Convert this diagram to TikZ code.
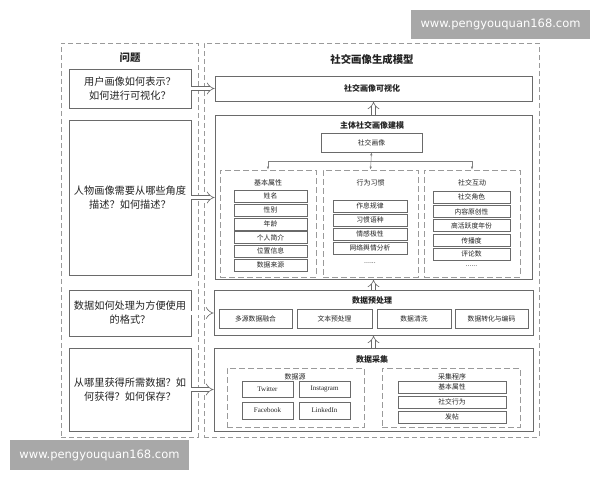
\documentclass[tikz,border=0pt]{standalone}
\usepackage{fontspec}
\setmainfont{Noto Sans CJK SC}
\newfontfamily\wmfont{DejaVu Sans}
\newfontfamily\enserif{Liberation Serif}
\usetikzlibrary{arrows.meta}
\definecolor{boxline}{HTML}{6A6A6A}
\definecolor{dashline}{HTML}{9A9A9A}
\definecolor{txt}{HTML}{222222}
\definecolor{wmgray}{HTML}{A8A8A8}
\tikzset{
  every node/.style={text=txt, inner sep=0pt},
  outerbox/.style={draw=dashline, line width=0.8pt, dash pattern=on 5pt off 3pt},
  subbox/.style={draw=dashline, line width=0.8pt, dash pattern=on 6pt off 3pt},
  qbox/.style={draw=boxline, line width=0.7pt, align=center, font=\fontsize{10.2}{14}\selectfont},
  bigbox/.style={draw=boxline, line width=0.7pt},
  item/.style={draw=boxline, line width=0.6pt, font=\fontsize{6.8}{8}\selectfont},
  ttl/.style={font=\bfseries\fontsize{10.4}{12}\selectfont},
  sttl/.style={font=\bfseries\fontsize{8}{10}\selectfont},
  lbl/.style={font=\fontsize{7}{8}\selectfont},
  harrow/.style={draw=boxline, line width=0.6pt, double=white, double distance=3.6pt, -{Implies[length=4.5pt]}},
  thinarrow/.style={draw=gray, line width=0.5pt, -{Latex[length=3pt,width=2.4pt]}},
  wm/.style={fill=wmgray, text=white, font=\wmfont\fontsize{11.5}{14}\selectfont}
}
\begin{document}
\begin{tikzpicture}[x=1pt,y=-1pt]
\useasboundingbox (0,0) rectangle (600,480);
% outer dashed boxes
\node[outerbox, minimum width=137pt, minimum height=394pt] (left) at (129.5,240) {};
\node[outerbox, minimum width=335pt, minimum height=394pt] (right) at (371.5,240) {};
\node[ttl] (lt) at (130,58) {问题};
\node[ttl] (rt) at (372,60) {社交画像生成模型};
% questions
\node[qbox, minimum width=122pt, minimum height=39pt] (q1) at (130,88.5) {用户画像如何表示？\\如何进行可视化？};
\node[qbox, minimum width=122pt, minimum height=155pt] (q2) at (130,197.5) {人物画像需要从哪些角度\\描述？如何描述？};
\node[qbox, minimum width=122pt, minimum height=46pt] (q3) at (130,313) {数据如何处理为方便使用\\的格式？};
\node[qbox, minimum width=122pt, minimum height=83pt] (q4) at (130,389.5) {从哪里获得所需数据？如\\何获得？如何保存？};
% visualization
\node[bigbox, minimum width=317pt, minimum height=25pt] (vis) at (373.5,88.5) {};
\node[sttl] (vist) at (372,88) {社交画像可视化};
% modeling
\node[bigbox, minimum width=317pt, minimum height=164pt] (model) at (373.5,197) {};
\node[sttl] (modelt) at (372,125) {主体社交画像建模};
\node[item, minimum width=101pt, minimum height=19pt] (sh) at (371.5,142.5) {社交画像};
\node[subbox, minimum width=96pt, minimum height=107pt] (A) at (268,223.5) {};
\node[subbox, minimum width=95pt, minimum height=107pt] (B) at (370.5,223.5) {};
\node[subbox, minimum width=96pt, minimum height=107pt] (C) at (472,223.5) {};
\node[lbl] (At) at (268,183) {基本属性};
\node[lbl] (Bt) at (370.5,183) {行为习惯};
\node[lbl] (Ct) at (472,183) {社交互动};
% A items
\node[item, minimum width=73pt, minimum height=12pt] (a1) at (270.5,196) {姓名};
\node[item, minimum width=73pt, minimum height=12pt] (a2) at (270.5,210) {性别};
\node[item, minimum width=73pt, minimum height=12pt] (a3) at (270.5,224) {年龄};
\node[item, minimum width=73pt, minimum height=12pt] (a4) at (270.5,237.5) {个人简介};
\node[item, minimum width=73pt, minimum height=12pt] (a5) at (270.5,251) {位置信息};
\node[item, minimum width=73pt, minimum height=12pt] (a6) at (270.5,265) {数据来源};
% B items
\node[item, minimum width=74pt, minimum height=12pt] (b1) at (370,206) {作息规律};
\node[item, minimum width=74pt, minimum height=12pt] (b2) at (370,220) {习惯语种};
\node[item, minimum width=74pt, minimum height=12pt] (b3) at (370,234) {情感极性};
\node[item, minimum width=74pt, minimum height=12pt] (b4) at (370,248) {网络舆情分析};
\node[lbl] (b5) at (370,263) {......};
% C items
\node[item, minimum width=77pt, minimum height=12pt] (c1) at (471.5,197) {社交角色};
\node[item, minimum width=77pt, minimum height=12pt] (c2) at (471.5,211.5) {内容原创性};
\node[item, minimum width=77pt, minimum height=12pt] (c3) at (471.5,225.5) {高活跃度年份};
\node[item, minimum width=77pt, minimum height=12pt] (c4) at (471.5,240.5) {传播度};
\node[item, minimum width=77pt, minimum height=12pt] (c5) at (471.5,254) {评论数};
\node[lbl] (c6) at (471.5,266) {......};
% connectors inside modeling
\coordinate (hj) at (371.5,161);
\draw[thinarrow, {Latex[length=3pt,width=2.4pt]}-{Latex[length=3pt,width=2.4pt]}] (sh.south) -- (B.north);
\draw[thinarrow] (hj) -| (A.north);
\draw[thinarrow] (hj) -| (C.north);
% preprocessing
\node[bigbox, minimum width=319pt, minimum height=45pt] (pre) at (373.5,312.5) {};
\node[sttl] (pret) at (372,300) {数据预处理};
\node[item, minimum width=73pt, minimum height=19pt] (p1) at (255.5,318.5) {多源数据融合};
\node[item, minimum width=75pt, minimum height=19pt] (p2) at (334.5,318.5) {文本预处理};
\node[item, minimum width=74pt, minimum height=19pt] (p3) at (414,318.5) {数据清洗};
\node[item, minimum width=73pt, minimum height=19pt] (p4) at (491.5,318.5) {数据转化与编码};
% collection
\node[bigbox, minimum width=319pt, minimum height=83pt] (col) at (373.5,389.5) {};
\node[sttl] (colt) at (372,359) {数据采集};
\node[subbox, minimum width=137pt, minimum height=59pt] (src) at (295.5,397.5) {};
\node[lbl] (srct) at (295,376.5) {数据源};
\node[item, minimum width=51pt, minimum height=16pt, font=\enserif\fontsize{7}{8}\selectfont] (tw) at (267.5,389) {Twitter};
\node[item, minimum width=51pt, minimum height=16pt, font=\enserif\fontsize{7}{8}\selectfont] (ig) at (324.5,389) {Instagram};
\node[item, minimum width=51pt, minimum height=17pt, font=\enserif\fontsize{7}{8}\selectfont] (fb) at (267.5,410.5) {Facebook};
\node[item, minimum width=51pt, minimum height=17pt, font=\enserif\fontsize{7}{8}\selectfont] (li) at (324.5,410.5) {LinkedIn};
\node[subbox, minimum width=138pt, minimum height=59pt] (prog) at (451,397.5) {};
\node[lbl] (progt) at (452,376.5) {采集程序};
\node[item, minimum width=108pt, minimum height=12pt] (g1) at (452,387) {基本属性};
\node[item, minimum width=108pt, minimum height=12pt] (g2) at (452,402) {社交行为};
\node[item, minimum width=108pt, minimum height=12pt] (g3) at (452,417) {发帖};
% hollow arrows
\draw[harrow] (q1.east) -- (q1.east -| vis.west);
\draw[harrow] (q2.east) -- (q2.east -| model.west);
\draw[harrow] (q3.east) -- (q3.east -| pre.west);
\draw[harrow] (q4.east) -- (q4.east -| col.west);
\draw[harrow] (model.north) -- (vis.south);
\draw[harrow] (pre.north) -- (model.south);
\draw[harrow] (col.north) -- (pre.south);
% watermarks
\node[wm, minimum width=179pt, minimum height=29pt] (wm1) at (500.5,24.5) {www.pengyouquan168.com};
\node[wm, minimum width=179pt, minimum height=30pt] (wm2) at (99.5,455) {www.pengyouquan168.com};
\end{tikzpicture}
\end{document}
